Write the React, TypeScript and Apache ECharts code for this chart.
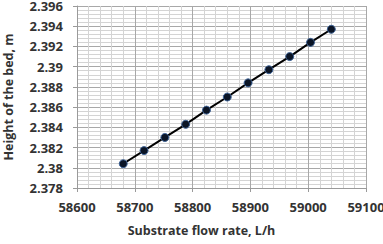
import React, { useEffect, useRef } from "react";
import * as echarts from "echarts";

// Substrate flow rate, L/h
const flowRate = [58680, 58716, 58752, 58788, 58824, 58860, 58896, 58932, 58968, 59004, 59040];
// Height of the bed, m
const bedHeight = [2.3804, 2.3817, 2.3830, 2.3843, 2.3857, 2.3870, 2.3884, 2.3897, 2.3910, 2.3924, 2.3937];

const xTitle = "Substrate flow rate, L/h";
const yTitle = "Height of the bed, m";

const FONT = "'Open Sans', 'Noto Sans', sans-serif";

export default function App() {
  const ref = useRef<HTMLDivElement>(null);

  useEffect(() => {
    document.body.style.margin = "0";
    const chart = echarts.init(ref.current!, undefined, { renderer: "svg" });
    const points = flowRate.map((x, i) => [x, bedHeight[i]]);
    chart.setOption({
      animation: false,
      backgroundColor: "#ffffff",
      grid: { left: 77, right: 17, top: 6, bottom: 56, outerBoundsMode: "none", containLabel: false },
      xAxis: {
        type: "value",
        min: 58600,
        max: 59100,
        interval: 100,
        name: xTitle,
        nameLocation: "middle",
        nameGap: 36,
        nameTextStyle: { fontFamily: FONT, fontWeight: "bold", fontSize: 12.5, color: "#333", padding: [0, 40, 0, 0] },
        axisLine: { show: true, lineStyle: { color: "#9a9a9a", width: 1 } },
        axisTick: { show: true, inside: false, length: 4, lineStyle: { color: "#9a9a9a" } },
        axisLabel: {
          fontFamily: FONT,
          fontWeight: "bold",
          fontSize: 13,
          color: "#333",
          margin: 12,
          formatter: (v: number) => String(Math.round(v)),
        },
        splitLine: { show: true, lineStyle: { color: "#a8a8a8", width: 1 } },
        minorTick: { show: false, splitNumber: 5 },
        minorSplitLine: { show: true, lineStyle: { color: "#d4d4d4", width: 1 } },
      },
      yAxis: {
        type: "value",
        min: 2.378,
        max: 2.396,
        interval: 0.002,
        name: yTitle,
        nameLocation: "middle",
        nameGap: 62,
        nameTextStyle: { fontFamily: FONT, fontWeight: "bold", fontSize: 12.5, color: "#333" },
        axisLine: { show: true, lineStyle: { color: "#9a9a9a", width: 1 } },
        axisTick: { show: true, inside: false, length: 4, lineStyle: { color: "#9a9a9a" } },
        axisLabel: {
          fontFamily: FONT,
          fontWeight: "bold",
          fontSize: 13,
          color: "#333",
          margin: 14,
          formatter: (v: number) => parseFloat(v.toFixed(3)).toString(),
        },
        splitLine: { show: true, lineStyle: { color: "#a8a8a8", width: 1 } },
        minorTick: { show: false, splitNumber: 5 },
        minorSplitLine: { show: true, lineStyle: { color: "#d4d4d4", width: 1 } },
      },
      series: [
        {
          type: "line",
          data: points,
          symbol: "circle",
          symbolSize: 8,
          lineStyle: { color: "#000000", width: 2 },
          itemStyle: { color: "#0b1526", borderColor: "#3f6498", borderWidth: 1 },
        },
      ],
    });
    return () => chart.dispose();
  }, []);

  return <div ref={ref} style={{ position: "absolute", left: 0, top: 0, width: 383, height: 244 }} />;
}
